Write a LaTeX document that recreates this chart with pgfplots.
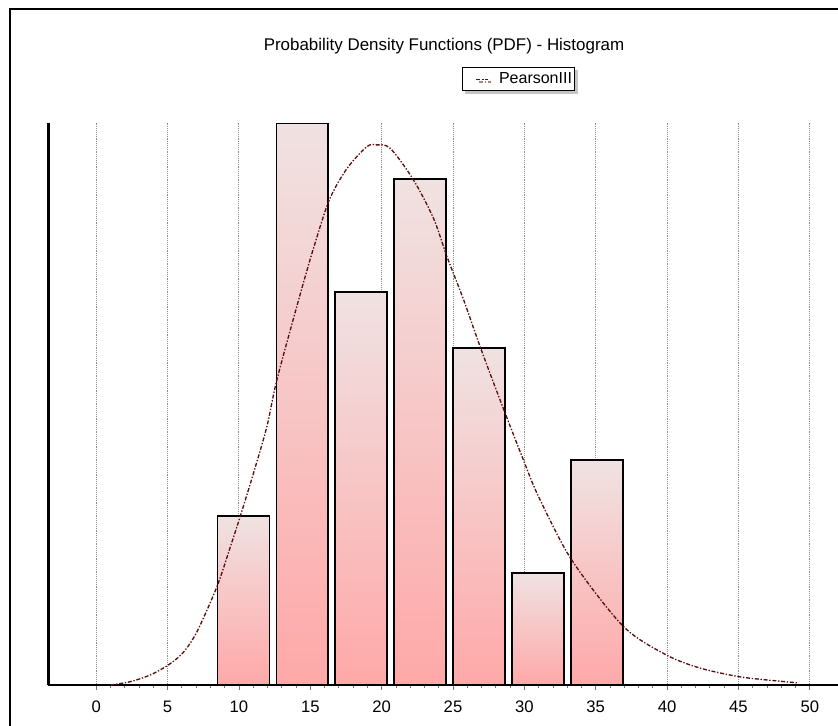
\documentclass[border=0pt]{standalone}
\usepackage{fontspec}
\setmainfont{Liberation Sans}
\usepackage{pgfplots}
\pgfplotsset{compat=1.18}
\usetikzlibrary{shadows}
\definecolor{barTop}{HTML}{F0E2E2}
\definecolor{barBot}{HTML}{FFA8A8}
\definecolor{curveRed}{HTML}{5A0D0D}
\begin{document}
\begin{tikzpicture}
\path[use as bounding box] (0pt,0pt) rectangle (628.5pt,-543.75pt);
\clip (0pt,0pt) rectangle (628.5pt,-543.75pt);
\draw[line width=1.5pt] (7.5pt,-6.75pt) rectangle (700pt,-600pt);
\node[anchor=base, font=\fontsize{12.7}{15}\selectfont] at (333pt,-37.5pt) {Probability Density Functions (PDF) - Histogram};
\begin{axis}[
  at={(36.2pt,-513.75pt)}, anchor=south west,
  scale only axis, width=608.6pt, height=421.5pt,
  xmin=-3.36, xmax=53.5, ymin=0, ymax=10,
  axis x line=bottom, axis y line=left,
  x axis line style={line width=1.5pt,-},
  y axis line style={line width=1.9pt,-},
  ytick=\empty,
  xtick={0,5,...,50}, minor x tick num=4,
  tick align=outside,
  major tick length=3.75pt, minor tick length=2.25pt,
  tick style={black!55, line width=0.6pt},
  xmajorgrids,
  major grid style={densely dotted, black!45, line width=0.7pt},
  /pgf/number format/assume math mode=true,
  xticklabel style={font=\fontsize{12.5}{15}\selectfont, yshift=-4.5pt},
  legend style={at={(0.5098,1.0996)}, anchor=north west, draw=black, line width=0.75pt,
    drop shadow={shadow xshift=2.2pt, shadow yshift=-2.2pt, fill=black!45},
    font=\fontsize{12}{14}\selectfont, inner xsep=0pt, inner ysep=1.8pt,
    /tikz/every odd column/.append style={column sep=5.5pt}},
  legend image code/.code={\path (0pt,0pt); \draw[#1, line width=0.9pt] (10pt,0pt) -- (19pt,0pt);},
  mybar/.style={ybar, bar width=3.64, bar shift=0pt, draw=black, line width=1.4pt,
    top color=barTop, bottom color=barBot, forget plot},
]
\addplot[mybar] coordinates {(10.32,3)};
\addplot[mybar] coordinates {(14.45,10)};
\addplot[mybar] coordinates {(18.58,7)};
\addplot[mybar] coordinates {(22.71,9)};
\addplot[mybar] coordinates {(26.84,6)};
\addplot[mybar] coordinates {(30.97,2)};
\addplot[mybar] coordinates {(35.11,4)};
\addplot[smooth, color=curveRed, line width=1pt, dash pattern=on 3pt off 1.3pt on 1pt off 1.3pt]
  coordinates {(1,0) (2.4,0.06) (3.8,0.18) (5.07,0.36) (6.1,0.58) (7.06,0.95) (8.46,1.75) (9.4,2.46) (10.09,3.0) (11.02,3.77) (11.96,4.6) (12.66,5.43) (14.18,6.85) (15.2,7.75) (16.33,8.63) (17.57,9.19) (18.97,9.58) (19.67,9.61) (20.6,9.55) (22.2,9.0) (23.64,8.3) (24.58,7.62) (25.75,6.85) (26.9,6.02) (28.3,5.07) (29.94,4.0) (31.0,3.35) (33.33,2.22) (36.95,1.04) (39.99,0.53) (42.33,0.30) (45.0,0.15) (47,0.09) (49.1,0.04)};
\addlegendentry{PearsonIII}
\end{axis}
\end{tikzpicture}
\end{document}
